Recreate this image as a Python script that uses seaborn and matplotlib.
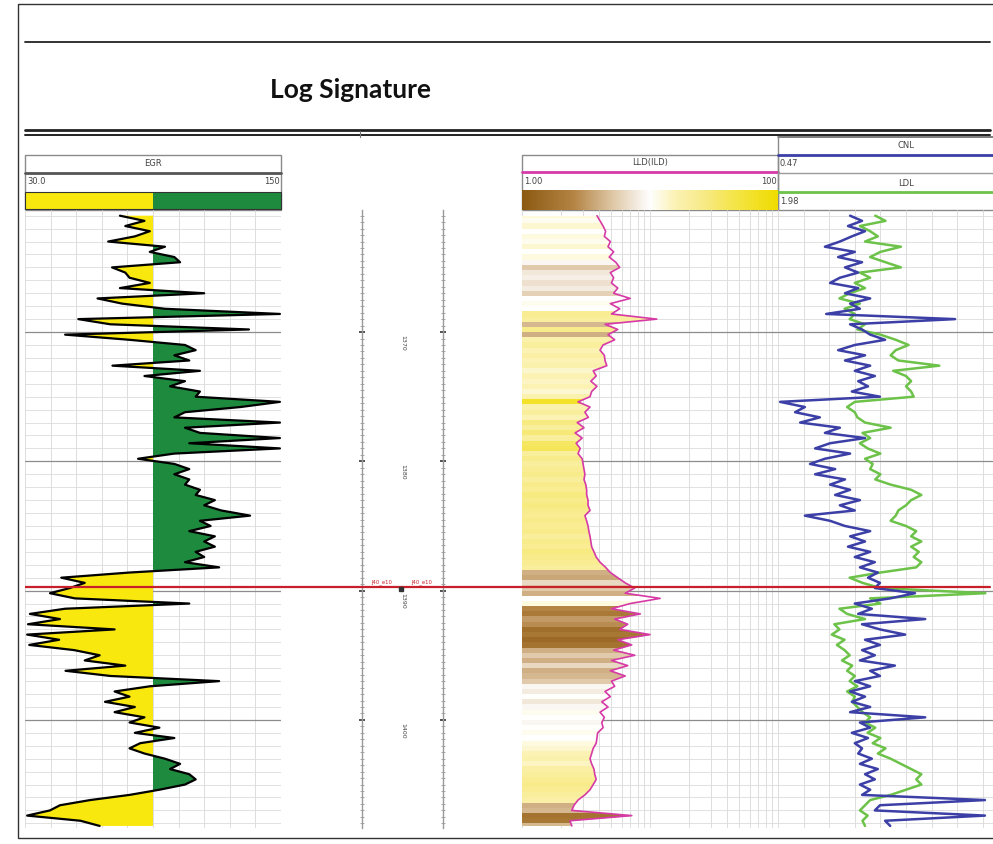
import numpy as np
import matplotlib
matplotlib.use('Agg')
import matplotlib.pyplot as plt
from matplotlib.colors import LinearSegmentedColormap
from matplotlib.patches import Rectangle
import seaborn as sns

# log samples every 0.4 m
depth = np.round(np.arange(1361.0, 1408.3, 0.4), 1)

egr = [74.5, 86, 77, 88.5, 81.5, 69, 95.6, 88.5, 100, 102.7,
       70.8, 77, 79, 88.5, 74.5, 114, 64, 75.5, 95.6, 149.5,
       55, 70, 135, 48.8, 79, 105, 110, 100, 107, 71,
       112, 86, 105, 98, 112, 110, 149.5, 131, 105, 100,
       149.5, 105, 112, 149.5, 107, 149.5, 100, 83, 100, 107,
       100, 107, 105, 112, 110, 119, 114, 122, 135.5, 112,
       117, 107, 119, 114, 119, 110, 114, 105, 121, 79,
       47, 58, 51, 41.7, 53.4, 107, 48.8, 32.3, 46.4, 31.4,
       72, 31, 46, 32, 53, 65, 58, 77, 49, 70,
       121, 88.5, 72, 79, 67.5, 81.5, 72, 86, 79, 93,
       81.5, 100, 84, 79, 86, 95.6, 102.7, 98, 107, 110,
       105, 93, 79, 60.5, 46.4, 41.7, 31, 56, 65]

lld = [3.85, 4.07, 4.3, 4.5, 4.4, 4.9, 4.7, 5.2, 4.8, 5.4,
       5.8, 4.9, 5.2, 5.0, 5.6, 5.2, 7.0, 4.9, 5.8, 5.0,
       11.3, 4.45, 5.6, 4.7, 5.3, 4.3, 4.07, 4.4, 4.45, 4.6,
       3.6, 3.8, 3.45, 3.85, 3.5, 3.4, 2.74, 3.4, 3.1, 3.3,
       2.7, 3.05, 2.6, 2.95, 2.65, 2.85, 2.74, 2.95, 3.0, 3.05,
       3.1, 3.05, 3.15, 3.2, 3.2, 3.28, 3.28, 3.4, 3.1, 3.2,
       3.28, 3.33, 3.4, 3.45, 3.5, 3.65, 3.8, 4.07, 4.5, 4.9,
       5.6, 6.4, 7.6, 6.4, 12.0, 7.0, 5.0, 8.4, 5.3, 6.7,
       5.8, 10.0, 5.6, 7.2, 5.2, 7.6, 5.0, 6.7, 4.9, 6.4,
       5.0, 5.3, 4.45, 4.9, 4.2, 4.7, 4.07, 4.4, 4.2, 4.3,
       3.9, 3.85, 3.8, 3.6, 3.5, 3.4, 3.5, 3.65, 3.7, 3.8,
       3.6, 3.4, 3.1, 2.74, 2.55, 2.45, 7.2, 2.37, 2.45]

# 0 = dark brown, 0.5 = white, 1 = yellow
lld_shade = [0.55, 0.52, 0.56, 0.5, 0.54, 0.52, 0.56, 0.5, 0.54, 0.48,
             0.36, 0.44, 0.46, 0.42, 0.45, 0.38, 0.5, 0.52, 0.5, 0.68,
             0.66, 0.32, 0.7, 0.3, 0.62, 0.66, 0.6, 0.64, 0.6, 0.62,
             0.57, 0.6, 0.58, 0.6, 0.56, 0.62, 0.9, 0.62, 0.66, 0.6,
             0.72, 0.66, 0.74, 0.66, 0.78, 0.8, 0.66, 0.7, 0.66, 0.68,
             0.7, 0.66, 0.7, 0.68, 0.72, 0.7, 0.72, 0.7, 0.68, 0.7,
             0.68, 0.7, 0.66, 0.7, 0.68, 0.72, 0.7, 0.68, 0.66, 0.3,
             0.28, 0.4, 0.36, 0.3, 0.5, 0.54, 0.2, 0.15, 0.25, 0.22,
             0.1, 0.14, 0.08, 0.12, 0.3, 0.36, 0.3, 0.4, 0.3, 0.32,
             0.36, 0.48, 0.45, 0.5, 0.44, 0.48, 0.52, 0.5, 0.48, 0.5,
             0.52, 0.5, 0.54, 0.56, 0.6, 0.62, 0.58, 0.64, 0.66, 0.68,
             0.7, 0.68, 0.66, 0.64, 0.3, 0.32, 0.12, 0.14, 0.32]

cnl = [0.301, 0.273, 0.306, 0.266, 0.297, 0.325, 0.36, 0.29, 0.329, 0.273,
       0.313, 0.282, 0.325, 0.348, 0.282, 0.313, 0.254, 0.301, 0.278, 0.357,
       0.055, 0.301, 0.273, 0.254, 0.219, 0.29, 0.329, 0.266, 0.313, 0.254,
       0.29, 0.243, 0.282, 0.259, 0.297, 0.231, 0.465, 0.407, 0.43, 0.372,
       0.418, 0.325, 0.36, 0.266, 0.348, 0.383, 0.301, 0.36, 0.395, 0.336,
       0.383, 0.313, 0.348, 0.301, 0.336, 0.278, 0.325, 0.29, 0.407, 0.348,
       0.313, 0.254, 0.301, 0.266, 0.306, 0.254, 0.29, 0.243, 0.278, 0.236,
       0.259, 0.231, 0.243, 0.149, 0.207, 0.29, 0.25, 0.282, 0.125, 0.273,
       0.231, 0.172, 0.266, 0.231, 0.273, 0.243, 0.278, 0.196, 0.254, 0.231,
       0.29, 0.254, 0.301, 0.266, 0.297, 0.254, 0.301, 0.125, 0.278, 0.254,
       0.297, 0.259, 0.29, 0.273, 0.282, 0.25, 0.278, 0.236, 0.266, 0.243,
       0.278, 0.254, 0.273, -0.015, 0.231, 0.243, -0.015, 0.219, 0.207]

ldl = [2.36, 2.40, 2.30, 2.34, 2.37, 2.32, 2.46, 2.38, 2.34, 2.40,
       2.46, 2.30, 2.34, 2.28, 2.32, 2.26, 2.22, 2.30, 2.24, 2.28,
       2.26, 2.32, 2.29, 2.38, 2.44, 2.49, 2.44, 2.42, 2.45, 2.61,
       2.43, 2.48, 2.50, 2.48, 2.50, 2.51, 2.28, 2.25, 2.28, 2.29,
       2.32, 2.42, 2.31, 2.34, 2.30, 2.33, 2.38, 2.32, 2.35, 2.34,
       2.38, 2.36, 2.42, 2.50, 2.54, 2.50, 2.48, 2.45, 2.44, 2.42,
       2.48, 2.52, 2.50, 2.54, 2.50, 2.53, 2.51, 2.54, 2.52, 2.38,
       2.26, 2.31, 2.38, 2.79, 2.34, 2.38, 2.22, 2.25, 2.32, 2.20,
       2.22, 2.19, 2.24, 2.21, 2.24, 2.26, 2.23, 2.27, 2.25, 2.28,
       2.26, 2.29, 2.25, 2.28, 2.27, 2.29, 2.31, 2.34, 2.32, 2.36,
       2.33, 2.38, 2.35, 2.40, 2.37, 2.42, 2.46, 2.50, 2.54, 2.52,
       2.54, 2.48, 2.42, 2.34, 2.32, 2.30, 2.33, 2.31, 2.32]

depth_top, depth_base = 1360.56, 1408.36
depth_labels = [1370, 1380, 1390, 1400]
marker_depth = 1389.7
marker_name = 'J40_e10'

egr_min, egr_max, egr_cut = 30.0, 150, 90
lld_min, lld_max = 1.00, 100
cnl_left, cnl_right = 0.47, -0.13
ldl_left, ldl_right = 1.98, 2.98

YELLOW = '#F8E80E'
GREEN = '#1E8A3E'
MAGENTA = '#D63AA6'
BLUE = '#3B3FA6'
LGREEN = '#6DC24A'
RED = '#C8202A'
lld_cmap = LinearSegmentedColormap.from_list('lld', [
    (0.0, '#8C5A12'), (0.2, '#B48444'), (0.35, '#DEC6A4'), (0.5, '#FFFFFF'),
    (0.6, '#FBF2B4'), (0.7, '#F8EB8C'), (0.85, '#F4E440'), (1.0, '#F0DC00')])

sns.set_style('white')
plt.rcParams['font.family'] = ['Liberation Sans Narrow', 'DejaVu Sans']

W, H = 993, 844
fig = plt.figure(figsize=(W / 100, H / 100), dpi=100)


def box(x0, y0, x1, y1):
    return [x0 / W, 1 - y1 / H, (x1 - x0) / W, (y1 - y0) / H]


# page furniture
bg = fig.add_axes([0, 0, 1, 1])
bg.set_xlim(0, W)
bg.set_ylim(H, 0)
bg.axis('off')
bg.add_patch(Rectangle((18, 4), 990, 834, fill=False, ec='#333333', lw=1))
bg.plot([25, 990], [42, 42], color='#222222', lw=1.3)
bg.text(270, 90, 'Log Signature', fontsize=19, fontweight='bold', va='center', ha='left',
        family=['Liberation Sans Narrow', 'Lato', 'DejaVu Sans'], color='#111111')
bg.plot([25, 990], [130, 130], color='#222222', lw=2)
bg.plot([25, 990], [135, 135], color='#222222', lw=1.4)
bg.plot([360, 360], [131, 137], color='#777777', lw=0.8)

hdr = dict(fontsize=6, color='#444444', va='center')

# EGR header
bg.add_patch(Rectangle((25, 155), 256, 55, fill=False, ec='#8a8a8a', lw=1))
bg.plot([25, 281], [173, 173], color='#555555', lw=2)
bg.text(153, 164, 'EGR', ha='center', **hdr)
bg.text(27, 181, f'{egr_min:.1f}', ha='left', **hdr)
bg.text(280, 181, f'{egr_max}', ha='right', **hdr)
bg.add_patch(Rectangle((25, 192), 128, 17, fc=YELLOW, ec='none'))
bg.add_patch(Rectangle((153, 192), 128, 17, fc=GREEN, ec='none'))
bg.add_patch(Rectangle((25, 192), 256, 17, fill=False, ec='#333333', lw=0.8))

# LLD header
bg.add_patch(Rectangle((522, 155), 256, 55, fill=False, ec='#8a8a8a', lw=1))
bg.plot([522, 778], [172, 172], color=MAGENTA, lw=2)
bg.text(650, 163, 'LLD(ILD)', ha='center', **hdr)
bg.text(524, 181, f'{lld_min:.2f}', ha='left', **hdr)
bg.text(777, 181, f'{lld_max}', ha='right', **hdr)
cax = fig.add_axes(box(522, 190, 778, 210))
cax.imshow(np.linspace(0, 1, 256)[None, :], cmap=lld_cmap, aspect='auto')
cax.axis('off')

# CNL / LDL header
bg.plot([778, 993], [137, 137], color='#666666', lw=1.2)
bg.plot([778, 778], [137, 210], color='#8a8a8a', lw=1)
bg.text(906, 146, 'CNL', ha='center', **hdr)
bg.plot([778, 993], [155, 155], color=BLUE, lw=2)
bg.text(780, 164, f'{cnl_left}', ha='left', **hdr)
bg.plot([778, 993], [173, 173], color='#9a9a9a', lw=1)
bg.text(906, 184, 'LDL', ha='center', **hdr)
bg.plot([778, 993], [192, 192], color=LGREEN, lw=2)
bg.text(780, 201, f'{ldl_left}', ha='left', **hdr)
bg.plot([778, 993], [210, 210], color='#8a8a8a', lw=1)


def track(x0, x1):
    ax = fig.add_axes(box(x0, 210, x1, 828))
    ax.set_ylim(depth_base, depth_top)
    ax.set_yticks(depth_labels)
    ax.set_yticks(np.arange(1361, 1409), minor=True)
    ax.grid(axis='y', which='major', color='#8c8c8c', lw=0.9)
    ax.grid(axis='y', which='minor', color='#dcdcdc', lw=0.6)
    ax.grid(axis='x', which='both', color='#d8d8d8', lw=0.6)
    ax.tick_params(which='both', length=0, labelleft=False, labelbottom=False)
    for s in ax.spines.values():
        s.set_visible(False)
    ax.set_axisbelow(True)
    ax.patch.set_alpha(0)
    return ax


# gamma ray track
ax_gr = track(25, 281)
egr_arr = np.array(egr)
ax_gr.fill_betweenx(depth, egr_arr, egr_cut, where=egr_arr <= egr_cut, interpolate=True,
                    color=YELLOW, lw=0)
ax_gr.fill_betweenx(depth, egr_arr, egr_cut, where=egr_arr >= egr_cut, interpolate=True,
                    color=GREEN, lw=0)
sns.lineplot(x=egr, y=depth, orient='y', estimator=None, sort=False, color='black', lw=1.6, ax=ax_gr)
ax_gr.set_xlim(egr_min, egr_max)
ax_gr.set_xticks(np.linspace(egr_min, egr_max, 11))
ax_gr.set_ylim(depth_base, depth_top)
ax_gr.set_xlabel('')
ax_gr.set_ylabel('')

# depth track
ax_dp = fig.add_axes(box(362, 210, 443, 828))
ax_dp.set_ylim(depth_base, depth_top)
ax_dp.set_xlim(0, 1)
ax_dp.set_xticks([])
ax_dp.set_yticks(depth_labels)
ax_dp.set_yticks(np.arange(1361, 1408.5, 0.5), minor=True)
ax_dp.tick_params(axis='y', which='both', left=True, right=True, direction='inout',
                  labelleft=False, colors='#9a9a9a')
ax_dp.tick_params(axis='y', which='minor', length=3, width=0.6)
ax_dp.tick_params(axis='y', which='major', length=4, width=1.3, colors='#444444')
for side in ['top', 'bottom']:
    ax_dp.spines[side].set_visible(False)
for side in ['left', 'right']:
    ax_dp.spines[side].set_color('#9a9a9a')
    ax_dp.spines[side].set_linewidth(1)
ax_dp.patch.set_alpha(0)
for d in depth_labels:
    ax_dp.text(0.5, d + 0.2, str(d), rotation=-90, fontsize=4.5, color='#444444',
               ha='center', va='top')

# resistivity track
ax_rt = track(522, 778)
ax_rt.set_xscale('log')
ax_rt.set_xlim(lld_min, lld_max)
poly = ax_rt.fill_betweenx(depth, lld_min, lld, facecolor='none', lw=0)
edges = np.concatenate(([depth[0] - 0.2], depth + 0.2))
mesh = ax_rt.pcolormesh([lld_min, lld_max], edges, np.array(lld_shade)[:, None],
                        cmap=lld_cmap, vmin=0, vmax=1, shading='flat', zorder=1)
mesh.set_clip_path(poly.get_paths()[0], ax_rt.transData)
sns.lineplot(x=lld, y=depth, orient='y', estimator=None, sort=False, color=MAGENTA, lw=1.2,
             ax=ax_rt, zorder=3)
ax_rt.set_xlim(lld_min, lld_max)
ax_rt.set_ylim(depth_base, depth_top)
ax_rt.set_xlabel('')
ax_rt.set_ylabel('')

# neutron / density track (runs past the right edge of the page)
ax_den = track(778, 1034)
ax_den.set_xlim(ldl_left, ldl_right)
ax_den.set_xticks(np.linspace(ldl_left, ldl_right, 11))
sns.lineplot(x=ldl, y=depth, orient='y', estimator=None, sort=False, color=LGREEN, lw=1.8, ax=ax_den)
ax_den.set_xlim(ldl_left, ldl_right)
ax_den.set_ylim(depth_base, depth_top)
ax_den.set_xlabel('')
ax_den.set_ylabel('')
ax_neu = ax_den.twiny()
sns.lineplot(x=cnl, y=depth, orient='y', estimator=None, sort=False, color=BLUE, lw=1.8, ax=ax_neu)
ax_neu.set_xlim(cnl_left, cnl_right)
ax_neu.set_ylim(depth_base, depth_top)
ax_neu.axis('off')

# formation top marker across all tracks
ov = fig.add_axes(box(25, 210, 993, 828))
ov.set_xlim(25, 993)
ov.set_ylim(depth_base, depth_top)
ov.axis('off')
ov.patch.set_visible(False)
ov.plot([25, 990], [marker_depth, marker_depth], color=RED, lw=1.6)
ov.text(382, marker_depth - 0.15, marker_name, fontsize=3.8, color=RED, ha='center', va='bottom')
ov.text(422, marker_depth - 0.15, marker_name, fontsize=3.8, color=RED, ha='center', va='bottom')
ov.plot([401], [marker_depth + 0.2], marker='s', ms=2.5, color='#333333')

fig.savefig('out.png', dpi=100)
